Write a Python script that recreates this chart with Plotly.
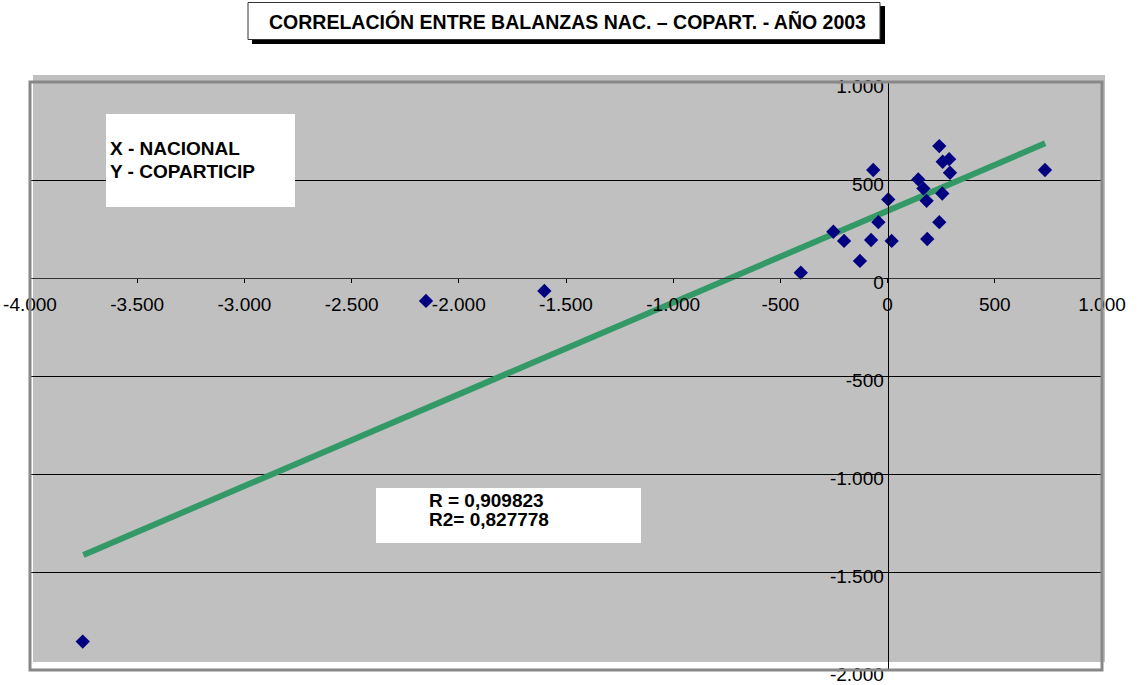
import plotly.graph_objects as go

# ---- data ----
nacional = [241, -67, 734, 143, 257, 287, 291, 167, 182, 255, 3, -43, 241,
            -253, -203, -77, 19, 185, -129, -405, -2153, -1601, -3754]
copart = [673, 551, 551, 503, 593, 606, 537, 457, 394, 431, 401, 285, 285,
          236, 189, 194, 189, 199, 87, 27, -117, -66, -1855]
trend_x = [-3751, 735]
trend_y = [-1413, 687]

x_ticks = [-4000, -3500, -3000, -2500, -2000, -1500, -1000, -500, 0, 500, 1000]
x_tick_text = ["-4.000", "-3.500", "-3.000", "-2.500", "-2.000", "-1.500",
               "-1.000", "-500", "0", "500", "1.000"]
y_ticks = [-2000, -1500, -1000, -500, 0, 500, 1000]
y_tick_text = ["-2.000", "-1.500", "-1.000", "-500", "0", "500", "1.000"]

title_text = "CORRELACIÓN ENTRE BALANZAS NAC. – COPART. - AÑO 2003"
box1_lines = ["X - NACIONAL", "Y - COPARTICIP"]
box2_lines = ["R = 0,909823", "R2= 0,827778"]

W, H = 1142, 685
L, R_, T, B = 30, 40, 82, 15
PW, PH = W - L - R_, H - T - B


def px(x):
    return (x - L) / PW


def py(y):
    return (H - B - y) / PH


FONT = "Liberation Sans, Arial, sans-serif"

fig = go.Figure()
fig.add_trace(go.Scatter(x=trend_x, y=trend_y, mode="lines",
                         line=dict(color="#339966", width=6),
                         hoverinfo="skip", showlegend=False))
fig.add_trace(go.Scatter(x=nacional, y=copart, mode="markers",
                         marker=dict(symbol="diamond", size=11, color="#000080",
                                     line=dict(width=0)),
                         showlegend=False))

shapes = [
    # gray plot fill (slightly offset, as in the reference)
    dict(type="rect", xref="paper", yref="paper", layer="below",
         x0=px(33), x1=px(1105), y0=py(662), y1=py(75),
         fillcolor="#c0c0c0", line=dict(width=0)),
    # plot frame
    dict(type="rect", xref="paper", yref="paper", layer="above",
         x0=0, x1=1, y0=0, y1=1, line=dict(color="#888888", width=3)),
    # text boxes
    dict(type="rect", xref="paper", yref="paper", layer="above",
         x0=px(106), x1=px(295), y0=py(207), y1=py(114),
         fillcolor="white", line=dict(width=0)),
    dict(type="rect", xref="paper", yref="paper", layer="above",
         x0=px(376), x1=px(641), y0=py(543), y1=py(488),
         fillcolor="white", line=dict(width=0)),
    # title box shadow and box
    dict(type="rect", xref="paper", yref="paper", layer="above",
         x0=px(252), x1=px(885), y0=py(44), y1=py(6),
         fillcolor="black", line=dict(width=0)),
    dict(type="rect", xref="paper", yref="paper", layer="above",
         x0=px(248), x1=px(880), y0=py(39.5), y1=py(2.5),
         fillcolor="white", line=dict(color="#333333", width=1)),
]

annotations = [
    dict(text=f"<b>{title_text}</b>", xref="paper", yref="paper",
         x=px(567.5), y=py(21), xanchor="center", yanchor="middle",
         showarrow=False, font=dict(family=FONT, size=19.5, color="black")),
]
for i, t in enumerate(box1_lines):
    annotations.append(dict(text=f"<b>{t}</b>", xref="paper", yref="paper",
                            x=px(108), y=py(148 + 24 * i), xanchor="left",
                            yanchor="middle", showarrow=False,
                            font=dict(family=FONT, size=19, color="black")))
for i, t in enumerate(box2_lines):
    annotations.append(dict(text=f"<b>{t}</b>", xref="paper", yref="paper",
                            x=px(427), y=py(500.5 + 18.7 * i), xanchor="left",
                            yanchor="middle", showarrow=False,
                            font=dict(family=FONT, size=19, color="black")))

fig.update_layout(
    width=W, height=H, autosize=False,
    margin=dict(l=L, r=R_, t=T, b=B, pad=0, autoexpand=False),
    paper_bgcolor="white", plot_bgcolor="white",
    shapes=shapes, annotations=annotations, showlegend=False,
    font=dict(family=FONT, size=18.5, color="black"),
    xaxis=dict(range=[-4000, 1000], anchor="free", position=2 / 3,
               automargin=False,
               showgrid=False, zeroline=False, showline=True,
               linecolor="#333333", linewidth=1,
               ticks="outside", ticklen=4, tickcolor="black", tickwidth=1,
               tickvals=x_ticks, ticktext=x_tick_text,
               ticklabelstandoff=5,
               tickfont=dict(family=FONT, size=19, color="black"),
               fixedrange=True),
    yaxis=dict(range=[-2000, 1000], anchor="free", position=0.8,
               automargin=False,
               showgrid=True, gridcolor="black", gridwidth=1,
               zeroline=False, showline=True, linecolor="black", linewidth=1,
               ticks="outside", ticklen=4, tickcolor="black", tickwidth=1,
               tickvals=y_ticks, ticktext=y_tick_text,
               ticklabelstandoff=-4, ticklabelshift=4,
               tickfont=dict(family=FONT, size=19, color="black"),
               fixedrange=True),
)

fig.write_html(
    "out.html",
    config={"displayModeBar": False},
    post_script="document.body.style.margin='0';document.body.style.overflow='hidden';",
)
